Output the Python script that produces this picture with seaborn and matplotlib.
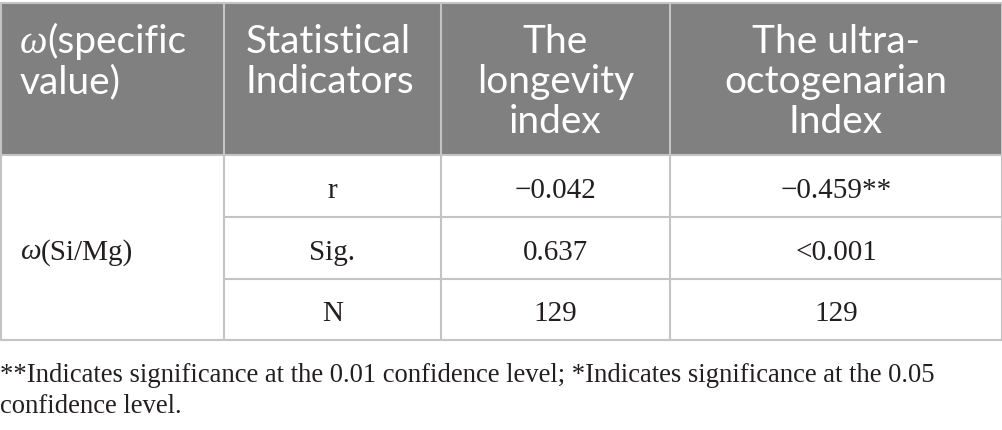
import matplotlib
matplotlib.use("Agg")
import matplotlib.pyplot as plt
import seaborn as sns
from matplotlib.patches import Rectangle

# table content
header_labels = [["(specific", "value)"],
                 ["Statistical", "Indicators"],
                 ["The", "longevity", "index"],
                 ["The ultra-", "octogenarian", "Index"]]
group_label = "(Si/Mg)"
indicators = ["r", "Sig.", "N"]
longevity_vals = ["\u22120.042", "0.637", "129"]
ultra_vals = ["\u22120.459**", "<0.001", "129"]
footnote_lines = ["**Indicates significance at the 0.01 confidence level; *Indicates significance at the 0.05",
                  "confidence level."]

sns.set_theme(style="white")

W, H = 1003, 431
fig = plt.figure(figsize=(W / 100, H / 100), dpi=100)
ax = fig.add_axes([0, 0, 1, 1])
ax.set_xlim(0, W)
ax.set_ylim(H, 0)
ax.axis("off")

col_x = [1, 224, 441, 670, 1002]
head_top, head_bot = 4, 156
row_y = [156, 218, 280, 341]
grid_col = "#c4c4c4"
head_bg = "#808080"
txt_col = "#231f20"
lw = 1.5

sans = "Lato"
serif = "Liberation Serif"
head_fs = 28
body_fs = 21
foot_fs = 19.2

ax.add_patch(Rectangle((col_x[0], head_top), col_x[-1] - col_x[0], head_bot - head_top,
                       facecolor=head_bg, edgecolor="none"))

# grid lines
ax.plot([col_x[0], col_x[-1]], [head_top, head_top], color=grid_col, lw=lw)
ax.plot([col_x[0], col_x[-1]], [head_bot, head_bot], color=grid_col, lw=lw)
ax.plot([col_x[0], col_x[-1]], [row_y[-1], row_y[-1]], color=grid_col, lw=lw)
for y in row_y[1:-1]:
    ax.plot([col_x[1], col_x[-1]], [y, y], color=grid_col, lw=lw)
for x in col_x:
    ax.plot([x, x], [head_top, row_y[-1]], color=grid_col, lw=lw)

fig.canvas.draw()
renderer = fig.canvas.get_renderer()


def run(x, y, parts, fs, color):
    # draw consecutive text pieces on one baseline
    for txt, fam, style in parts:
        t = ax.text(x, y, txt, fontsize=fs, family=fam, style=style,
                    color=color, va="baseline", ha="left")
        bb = t.get_window_extent(renderer=renderer)
        x += bb.width


# header
line_gap = 40
base0 = 53
run(20, base0, [("\u03c9", serif, "italic"),
                (header_labels[0][0], sans, "normal")], head_fs, "white")
ax.text(20, base0 + line_gap, header_labels[0][1], fontsize=head_fs, family=sans,
        color="white", va="baseline")
for i, line in enumerate(header_labels[1]):
    ax.text(246, base0 + i * line_gap, line, fontsize=head_fs, family=sans,
            color="white", va="baseline")
for c, lines in zip([2, 3], header_labels[2:]):
    cx = (col_x[c] + col_x[c + 1]) / 2
    for i, line in enumerate(lines):
        ax.text(cx, base0 + i * line_gap, line, fontsize=head_fs, family=sans,
                color="white", va="baseline", ha="center")

# body
mid = (row_y[0] + row_y[-1]) / 2
run(20, mid + 11, [("\u03c9", serif, "italic"),
                   (group_label, serif, "normal")], body_fs, txt_col)
for r in range(3):
    cy = (row_y[r] + row_y[r + 1]) / 2 + 11
    for c, vals in zip([1, 2, 3], [indicators, longevity_vals, ultra_vals]):
        cx = (col_x[c] + col_x[c + 1]) / 2
        ax.text(cx, cy, vals[r], fontsize=body_fs, family=serif, color=txt_col,
                va="baseline", ha="center")

for i, line in enumerate(footnote_lines):
    ax.text(0, 382 + i * 31, line, fontsize=foot_fs, family=serif, color=txt_col,
            va="baseline")

fig.savefig("out.png", dpi=100)
